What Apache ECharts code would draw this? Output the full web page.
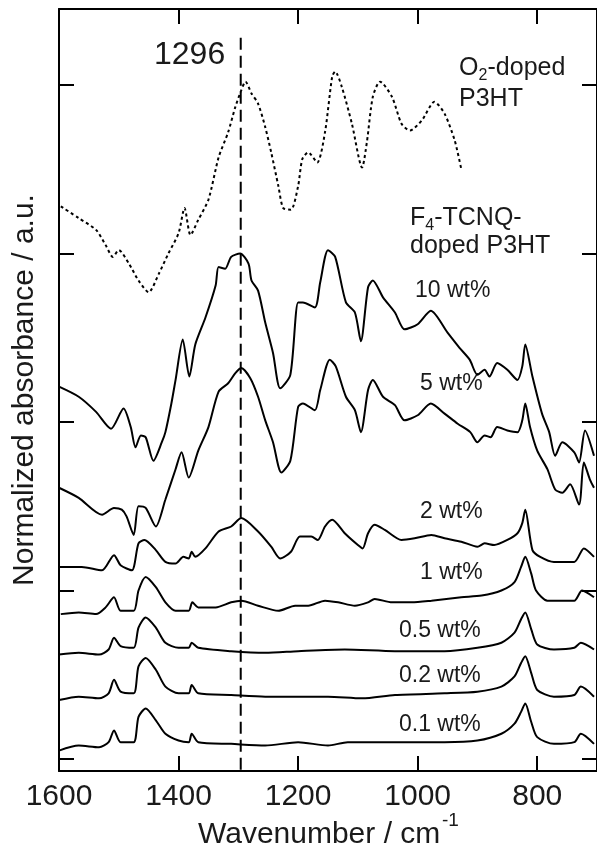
<!DOCTYPE html>
<html>
<head>
<meta charset="utf-8">
<script src="https://cdn.jsdelivr.net/npm/echarts@6/dist/echarts.min.js"></script>
<style>
  html, body { margin: 0; padding: 0; background: #fff; }
  #chart { width: 597px; height: 857px; }
</style>
</head>
<body>
<div id="chart"></div>
<script>
// wavenumber (cm-1) / normalized absorbance (a.u., offset per sample)
const xTicks = [1600, 1400, 1200, 1000, 800];
const yTicks = [0, 1, 2, 3, 4];
const markerWn = 1296;

const o2Doped = [[1597,3.28],[1567,3.21],[1538,3.14],[1522,3.05],[1510,2.98],[1500,3.02],[1483,2.94],[1467,2.84],[1450,2.77],[1433,2.88],[1417,3.00],[1400,3.12],[1390,3.27],[1380,3.11],[1367,3.20],[1350,3.32],[1333,3.57],[1317,3.72],[1305,3.87],[1295,3.97],[1288,4.02],[1278,3.95],[1267,3.89],[1255,3.75],[1245,3.60],[1233,3.40],[1225,3.27],[1212,3.26],[1200,3.40],[1193,3.56],[1183,3.60],[1168,3.54],[1155,3.72],[1143,4.05],[1138,4.08],[1127,3.99],[1110,3.77],[1093,3.51],[1085,3.66],[1075,3.93],[1063,4.02],[1043,3.93],[1027,3.77],[1013,3.73],[993,3.79],[972,3.90],[955,3.83],[938,3.67],[927,3.50]];

const wt10 = [[1600,2.21],[1567,2.15],[1538,2.06],[1513,1.96],[1492,2.08],[1480,1.97],[1472,1.85],[1463,1.92],[1455,1.91],[1442,1.77],[1428,1.88],[1422,1.94],[1412,2.11],[1405,2.25],[1393,2.49],[1382,2.27],[1372,2.46],[1355,2.62],[1338,2.81],[1333,2.92],[1322,2.91],[1312,2.98],[1297,3.00],[1283,2.94],[1278,2.84],[1267,2.78],[1255,2.59],[1242,2.41],[1230,2.20],[1213,2.28],[1200,2.71],[1192,2.71],[1172,2.68],[1163,2.83],[1150,3.02],[1138,2.98],[1120,2.71],[1105,2.65],[1095,2.48],[1083,2.80],[1075,2.84],[1058,2.74],[1038,2.65],[1022,2.55],[1000,2.58],[978,2.66],[950,2.53],[930,2.44],[913,2.37],[900,2.28],[888,2.31],[880,2.27],[867,2.35],[850,2.31],[833,2.25],[825,2.33],[820,2.46],[808,2.27],[792,2.05],[780,1.94],[770,1.80],[758,1.88],[738,1.82],[730,1.76],[720,1.95],[705,1.80]];

const wt5 = [[1600,1.61],[1567,1.55],[1528,1.45],[1508,1.49],[1495,1.48],[1487,1.44],[1475,1.33],[1467,1.50],[1455,1.49],[1438,1.38],[1422,1.54],[1405,1.72],[1395,1.82],[1383,1.67],[1367,1.83],[1350,1.97],[1333,2.18],[1317,2.23],[1305,2.29],[1295,2.32],[1280,2.26],[1267,2.15],[1255,2.01],[1242,1.88],[1228,1.70],[1213,1.77],[1200,2.09],[1192,2.11],[1172,2.07],[1163,2.19],[1147,2.37],[1137,2.33],[1120,2.15],[1105,2.07],[1095,1.94],[1083,2.19],[1075,2.25],[1058,2.15],[1038,2.10],[1022,2.01],[1000,2.04],[978,2.11],[955,2.05],[933,1.99],[912,1.94],[900,1.88],[888,1.92],[878,1.91],[867,1.97],[850,1.95],[833,1.94],[825,2.01],[820,2.11],[812,1.97],[800,1.83],[783,1.72],[770,1.60],[758,1.58],[745,1.63],[730,1.51],[722,1.76],[712,1.66],[705,1.61]];

const wt2 = [[1600,1.14],[1562,1.14],[1528,1.12],[1508,1.21],[1497,1.15],[1478,1.12],[1467,1.28],[1457,1.30],[1438,1.24],[1422,1.17],[1405,1.16],[1392,1.20],[1383,1.19],[1378,1.23],[1372,1.20],[1355,1.25],[1333,1.35],[1312,1.38],[1295,1.43],[1267,1.35],[1245,1.26],[1230,1.19],[1212,1.23],[1197,1.32],[1178,1.32],[1167,1.30],[1155,1.38],[1143,1.42],[1122,1.34],[1100,1.27],[1092,1.25],[1083,1.34],[1072,1.39],[1055,1.36],[1027,1.30],[1005,1.31],[977,1.33],[955,1.31],[927,1.29],[900,1.26],[888,1.28],[872,1.27],[850,1.30],[833,1.34],[825,1.40],[820,1.48],[808,1.24],[795,1.20],[772,1.17],[738,1.17],[722,1.25],[705,1.20]];

const wt1 = [[1597,0.86],[1567,0.87],[1538,0.86],[1522,0.90],[1508,0.96],[1497,0.88],[1475,0.88],[1467,1.00],[1455,1.08],[1438,1.02],[1422,0.93],[1405,0.88],[1383,0.88],[1377,0.93],[1367,0.90],[1338,0.90],[1312,0.93],[1295,0.94],[1267,0.91],[1233,0.88],[1205,0.91],[1183,0.91],[1155,0.94],[1133,0.93],[1105,0.91],[1083,0.93],[1072,0.95],[1043,0.93],[1010,0.93],[977,0.94],[927,0.96],[893,0.97],[860,1.00],[838,1.05],[827,1.14],[820,1.20],[810,1.10],[802,1.00],[783,0.94],[760,0.94],[738,0.94],[725,1.00],[705,0.96]];

const wt05 = [[1600,0.62],[1567,0.63],[1533,0.62],[1517,0.65],[1508,0.72],[1497,0.67],[1475,0.66],[1467,0.78],[1455,0.84],[1438,0.78],[1422,0.69],[1400,0.66],[1383,0.66],[1378,0.69],[1367,0.66],[1312,0.64],[1255,0.63],[1200,0.64],[1122,0.65],[1038,0.64],[955,0.64],[900,0.66],[860,0.69],[838,0.75],[827,0.83],[820,0.87],[810,0.77],[800,0.68],[772,0.65],[738,0.66],[727,0.69],[705,0.65]];

const wt02 = [[1600,0.35],[1567,0.37],[1533,0.36],[1517,0.39],[1508,0.47],[1497,0.40],[1475,0.39],[1467,0.55],[1455,0.60],[1438,0.53],[1422,0.43],[1400,0.39],[1383,0.39],[1378,0.44],[1367,0.39],[1312,0.38],[1255,0.37],[1200,0.37],[1150,0.37],[1093,0.36],[1038,0.38],[955,0.39],[900,0.40],[860,0.43],[838,0.49],[827,0.57],[820,0.61],[810,0.51],[800,0.41],[772,0.37],[738,0.38],[727,0.43],[705,0.37]];

const wt01 = [[1600,0.05],[1567,0.08],[1533,0.07],[1517,0.10],[1508,0.17],[1497,0.10],[1475,0.10],[1467,0.25],[1455,0.30],[1438,0.23],[1422,0.15],[1400,0.11],[1383,0.10],[1378,0.15],[1367,0.10],[1312,0.09],[1255,0.08],[1200,0.10],[1150,0.08],[1117,0.10],[1038,0.10],[955,0.10],[900,0.11],[860,0.15],[838,0.21],[827,0.28],[820,0.33],[810,0.22],[800,0.13],[772,0.09],[738,0.10],[727,0.15],[705,0.09]];

const sampleNames = ['10 wt%', '5 wt%', '2 wt%', '1 wt%', '0.5 wt%', '0.2 wt%', '0.1 wt%'];
const sampleData = [wt10, wt5, wt2, wt1, wt05, wt02, wt01];

const FONT = 'Arial, "Liberation Sans", sans-serif';
const INK = '#1a1a1a';

let chart = echarts.init(document.getElementById('chart'));

function xAxisOpt(pos, showLabel) {
  return {
    type: 'value',
    position: pos,
    min: 700,
    max: 1600,
    inverse: true,
    axisLine: { show: true, onZero: false, lineStyle: { color: '#000', width: 2 } },
    axisTick: { show: true, inside: true, length: 15, customValues: xTicks, lineStyle: { color: '#000', width: 2 } },
    axisLabel: {
      show: showLabel, customValues: xTicks, fontSize: 30, margin: 11, color: INK, fontFamily: FONT,
      formatter: v => String(v)
    },
    splitLine: { show: false }
  };
}
function yAxisOpt(pos) {
  return {
    type: 'value',
    position: pos,
    min: -0.071,
    max: 4.451,
    axisLine: { show: true, onZero: false, lineStyle: { color: '#000', width: 2 } },
    axisTick: { show: true, inside: true, length: 15, customValues: yTicks, lineStyle: { color: '#000', width: 2 } },
    axisLabel: { show: false },
    splitLine: { show: false }
  };
}

let series = sampleData.map((d, i) => ({
  name: sampleNames[i],
  type: 'line',
  data: d,
  showSymbol: false,
  smooth: 0.25,
  lineStyle: { color: '#000', width: 2 }
}));
series.unshift({
  name: 'O2-doped P3HT',
  type: 'line',
  data: o2Doped,
  showSymbol: false,
  smooth: 0.25,
  lineStyle: { color: '#000', width: 2, type: [3, 3] }
});
series.push({
  name: 'marker',
  type: 'line',
  data: [[markerWn, 4.28], [markerWn, -0.071]],
  showSymbol: false,
  lineStyle: { color: '#000', width: 2, type: [12, 6] }
});

function txt(text, x, y, size, extra) {
  return Object.assign({
    type: 'text', x: x, y: y,
    style: { text: text, fontSize: size, fontFamily: FONT, fill: INK, align: 'left', verticalAlign: 'middle' }
  }, extra || {});
}

// sample label positions (left, middle)
const labelPos = [[415, 291], [420, 384], [420, 512], [420, 573], [399, 631], [399, 676], [399, 725]];

let graphics = [
  txt('1296', 154, 55, 32),
  txt('O', 459, 68, 25), txt('2', 478.5, 76, 16), txt('-doped', 487.5, 68, 25),
  txt('P3HT', 459, 99, 25),
  txt('F', 410, 218, 25), txt('4', 425.3, 226, 16), txt('-TCNQ-', 434.2, 218, 25),
  txt('doped P3HT', 410, 246, 25),
  txt('Wavenumber / cm', 198, 835, 30), txt('-1', 442, 821, 19),
  {
    type: 'text', x: 25, y: 390, rotation: Math.PI / 2,
    style: { text: 'Normalized absorbance / a.u.', fontSize: 30, fontFamily: FONT, fill: INK, align: 'center', verticalAlign: 'middle' }
  }
];
sampleNames.forEach((n, i) => graphics.push(txt(n, labelPos[i][0], labelPos[i][1], 23)));

let options = {
  animation: false,
  backgroundColor: '#fff',
  grid: { left: 59, top: 9, width: 541, height: 762 },
  xAxis: [xAxisOpt('bottom', true), xAxisOpt('top', false)],
  yAxis: [yAxisOpt('left'), yAxisOpt('right')],
  series: series,
  graphic: graphics
};
chart.setOption(options);
</script>
</body>
</html>
